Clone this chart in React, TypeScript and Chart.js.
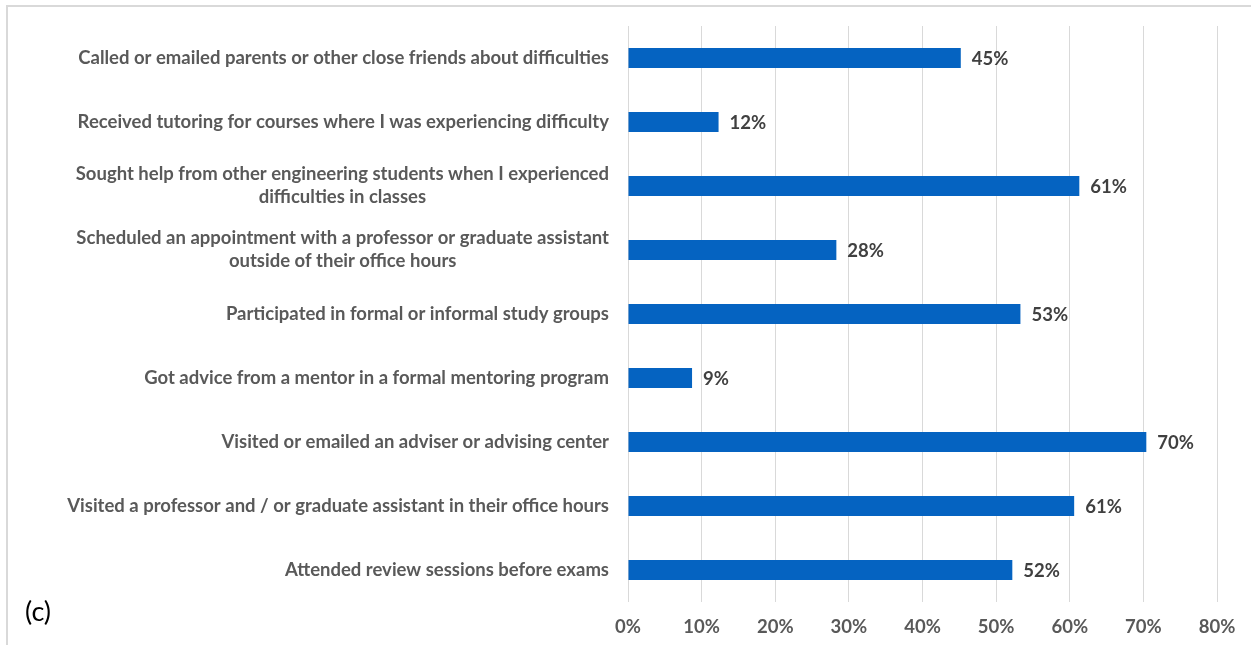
import React, { useEffect, useRef } from "react";
import { Chart, registerables } from "chart.js";

Chart.register(...registerables);

const categories: (string | string[])[] = [
  "Called or emailed parents or other close friends about difficulties",
  "Received tutoring for courses where I was experiencing difficulty",
  ["Sought help from other engineering students when I experienced", "difficulties in classes"],
  ["Scheduled an appointment with a professor or graduate assistant", "outside of their office hours"],
  "Participated in formal or informal study groups",
  "Got advice from a mentor in a formal mentoring program",
  "Visited or emailed an adviser or advising center",
  "Visited a professor and / or graduate assistant in their office hours",
  "Attended review sessions before exams",
];

const values: number[] = [45.2, 12.3, 61.3, 28.3, 53.3, 8.7, 70.4, 60.6, 52.2];

const xTicks: number[] = [0, 10, 20, 30, 40, 50, 60, 70, 80];

const FONT = "Lato, 'Open Sans', sans-serif";
const FS = 18.5;

const labelPlugin = {
  id: "customLabels",
  afterDraw(chart: any) {
    const ctx = chart.ctx;
    const yScale = chart.scales.y;
    const xScale = chart.scales.x;
    const area = chart.chartArea;
    ctx.save();
    ctx.font = `bold ${FS}px ${FONT}`;
    ctx.textBaseline = "middle";
    ctx.fillStyle = "#595959";
    categories.forEach((cat, i) => {
      const lines = Array.isArray(cat) ? cat : [cat];
      const y = yScale.getPixelForValue(i);
      let maxW = 0;
      lines.forEach((l) => {
        maxW = Math.max(maxW, ctx.measureText(l).width);
      });
      const right = area.left - 19;
      ctx.textAlign = "center";
      lines.forEach((l, j) => {
        const ly = y + (j - (lines.length - 1) / 2) * 23;
        ctx.fillText(l, right - maxW / 2, ly);
      });
    });
    ctx.fillStyle = "#404040";
    ctx.textAlign = "left";
    values.forEach((v, i) => {
      const x = xScale.getPixelForValue(v) + 11;
      const y = yScale.getPixelForValue(i);
      ctx.fillText(`${Math.round(v)}%`, x, y + 1);
    });
    ctx.restore();
  },
};

export default function App() {
  const ref = useRef<HTMLCanvasElement>(null);

  useEffect(() => {
    if (!ref.current) return;
    const chart = new Chart(ref.current, {
      type: "bar",
      data: {
        labels: categories.map((c) => (Array.isArray(c) ? c.join(" ") : c)),
        datasets: [
          {
            data: values,
            backgroundColor: "#0563C1",
            borderWidth: 0,
            categoryPercentage: 1,
            barPercentage: 0.3125,
          },
        ],
      },
      options: {
        indexAxis: "y",
        animation: false,
        responsive: false,
        maintainAspectRatio: false,
        layout: { padding: { left: 628, right: 34, top: 26, bottom: 0 } },
        plugins: {
          legend: { display: false },
          tooltip: { enabled: false },
          title: { display: false },
        },
        scales: {
          x: {
            type: "linear",
            min: xTicks[0],
            max: xTicks[xTicks.length - 1],
            afterBuildTicks: (scale: any) => {
              scale.ticks = xTicks.map((v) => ({ value: v }));
            },
            afterFit: (scale: any) => {
              scale.height = 43;
            },
            ticks: {
              callback: (v: any) => `${v}%`,
              font: { family: FONT, size: FS, weight: "bold" },
              color: "#595959",
              padding: 14,
            },
            grid: { color: "#d9d9d9", lineWidth: 1, drawTicks: false },
            border: { display: false },
          },
          y: {
            ticks: { display: false },
            grid: { display: false },
            border: { display: false },
            afterFit: (scale: any) => {
              scale.width = 0;
            },
          },
        },
      },
      plugins: [labelPlugin],
    });
    return () => chart.destroy();
  }, []);

  return (
    <div
      style={{
        position: "fixed",
        left: 0,
        top: 0,
        width: 1251,
        height: 645,
        background: "#ffffff",
        overflow: "hidden",
      }}
    >
      <div
        style={{
          position: "absolute",
          left: 6,
          top: 5,
          width: 1300,
          height: 700,
          borderTop: "2px solid #d9d9d9",
          borderLeft: "2px solid #d9d9d9",
        }}
      />
      <canvas
        ref={ref}
        width={1251}
        height={645}
        style={{ position: "absolute", left: 0, top: 0 }}
      />
      <div
        style={{
          position: "absolute",
          left: 25,
          top: 594,
          fontFamily: FONT,
          fontSize: 27,
          color: "#000000",
          lineHeight: "34px",
        }}
      >
        (c)
      </div>
    </div>
  );
}
